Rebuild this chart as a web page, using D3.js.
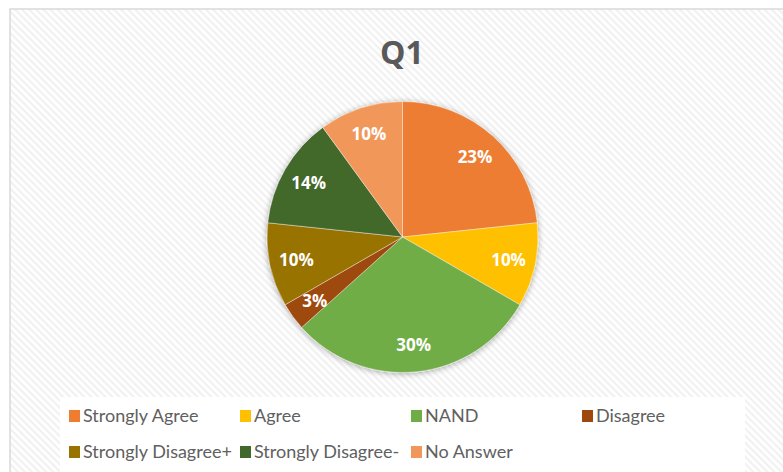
<!DOCTYPE html>
<html>
<head>
<meta charset="utf-8">
<script src="https://cdn.jsdelivr.net/npm/d3@7"></script>
<style>
  body { margin: 0; background: #ffffff; }
  svg { display: block; }
</style>
</head>
<body>
<div id="chart"></div>
<script>
// chart data
var categories = ["Strongly Agree", "Agree", "NAND", "Disagree", "Strongly Disagree+", "Strongly Disagree-", "No Answer"];
var values = [23.3, 10, 30, 3.3, 10, 13.3, 10];
var valueLabels = ["23%", "10%", "30%", "3%", "10%", "14%", "10%"];
var colors = ["#ED7D31", "#FFC000", "#70AD47", "#9E480E", "#997300", "#43682B", "#F1975A"];

var svgWidth = 783;
var svgHeight = 472;

var svg = d3.select("#chart")
    .append("svg")
    .attr("width", svgWidth)
    .attr("height", svgHeight);

var defs = svg.append("defs");

// diagonal stripe background
var pattern = defs.append("pattern")
    .attr("id", "stripes")
    .attr("width", 5)
    .attr("height", 5)
    .attr("patternUnits", "userSpaceOnUse")
    .attr("patternTransform", "rotate(45)");
pattern.append("rect")
    .attr("width", 5).attr("height", 5)
    .attr("fill", "#ffffff");
pattern.append("rect")
    .attr("width", 5).attr("height", 2.2)
    .attr("fill", "#f1f1f1");

// soft shadow for the pie
var shadow = defs.append("filter")
    .attr("id", "shadow")
    .attr("x", "-20%").attr("y", "-20%")
    .attr("width", "140%").attr("height", "140%");
shadow.append("feGaussianBlur")
    .attr("in", "SourceAlpha")
    .attr("stdDeviation", 3);
shadow.append("feOffset").attr("dx", 0).attr("dy", 1).attr("result", "blur");
shadow.append("feComponentTransfer")
    .append("feFuncA").attr("type", "linear").attr("slope", 0.35);
var merge = shadow.append("feMerge");
merge.append("feMergeNode");
merge.append("feMergeNode").attr("in", "SourceGraphic");

// chart area with border
svg.append("rect")
    .attr("x", 10)
    .attr("y", 9)
    .attr("width", svgWidth)
    .attr("height", svgHeight)
    .attr("fill", "url(#stripes)")
    .attr("stroke", "#d9d9d9")
    .attr("stroke-width", 1.5);

// title
svg.append("text")
    .attr("x", 402)
    .attr("y", 64)
    .attr("text-anchor", "middle")
    .style("font-family", "'Open Sans', sans-serif")
    .style("font-weight", "bold")
    .style("font-size", "32px")
    .attr("fill", "#595959")
    .text("Q1");

// pie
var radius = 135.5;
var pieGroup = svg.append("g")
    .attr("transform", "translate(402.5, 237)");

var pie = d3.pie()
    .sort(null)
    .value(d => d);

var arc = d3.arc()
    .innerRadius(0)
    .outerRadius(radius);

var labelArc = d3.arc()
    .innerRadius(radius * 0.8)
    .outerRadius(radius * 0.8);

var arcs = pie(values);

pieGroup.append("g")
    .attr("filter", "url(#shadow)")
    .selectAll("path")
    .data(arcs)
    .enter()
    .append("path")
    .attr("d", arc)
    .attr("fill", (d, i) => colors[i])
    .attr("stroke", "#ffffff")
    .attr("stroke-width", 0.4);

pieGroup.append("g")
    .selectAll("text")
    .data(arcs)
    .enter()
    .append("text")
    .attr("transform", d => `translate(${labelArc.centroid(d)})`)
    .attr("dy", "0.36em")
    .attr("text-anchor", "middle")
    .style("font-family", "'Open Sans', sans-serif")
    .style("font-weight", "bold")
    .style("font-size", "17px")
    .attr("fill", "#ffffff")
    .text((d, i) => valueLabels[i]);

// legend
svg.append("rect")
    .attr("x", 60)
    .attr("y", 397)
    .attr("width", 685)
    .attr("height", 80)
    .attr("fill", "#ffffff");

var legendCol = d3.scaleLinear().domain([0, 1]).range([83, 254]);

var legend = svg.append("g")
    .selectAll("g")
    .data(categories)
    .enter()
    .append("g")
    .attr("transform", (d, i) => `translate(${legendCol(i % 4)}, ${422 + Math.floor(i / 4) * 36})`);

legend.append("rect")
    .attr("x", -14)
    .attr("y", -12)
    .attr("width", 11)
    .attr("height", 12)
    .attr("fill", (d, i) => colors[i]);

legend.append("text")
    .attr("x", 0)
    .attr("y", 0)
    .style("font-family", "Lato, sans-serif")
    .style("font-size", "18px")
    .attr("fill", "#606060")
    .text(d => d);
</script>
</body>
</html>
